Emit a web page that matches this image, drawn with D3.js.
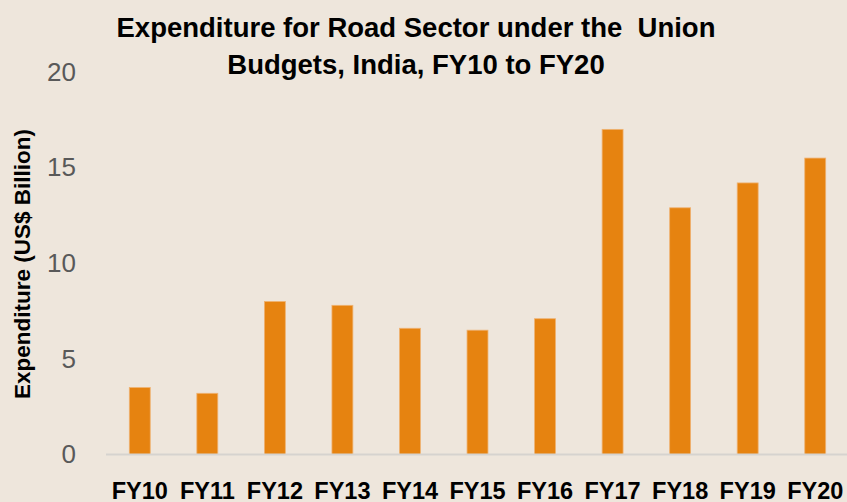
<!DOCTYPE html>
<html>
<head>
<meta charset="utf-8">
<script src="https://cdn.jsdelivr.net/npm/d3@7"></script>
<style>
  html, body { margin: 0; padding: 0; background: #EEE6DC; }
  svg { display: block; }
</style>
</head>
<body>
<svg id="road-chart" width="847" height="502"></svg>
<script>
// data
const years = ["FY10", "FY11", "FY12", "FY13", "FY14", "FY15", "FY16", "FY17", "FY18", "FY19", "FY20"];
const spend = [3.5, 3.2, 8.0, 7.8, 6.6, 6.5, 7.1, 17.0, 12.9, 14.2, 15.5];
const yTicks = [0, 5, 10, 15, 20];
const titleLines = ["Expenditure for Road Sector under the  Union", "Budgets, India, FY10 to FY20"];

const svg = d3.select("#road-chart");
const W = +svg.attr("width"), H = +svg.attr("height");

svg.append("rect").attr("width", W).attr("height", H).attr("fill", "#EEE6DC");

const x = d3.scaleBand()
    .domain(years)
    .range([106, 849])
    .paddingInner(0.69)
    .paddingOuter(0.345);

const y = d3.scaleLinear()
    .domain([0, 20])
    .range([454.5, 72]);

// bars
svg.selectAll(".bar")
    .data(spend)
    .enter()
    .append("rect")
    .attr("class", "bar")
    .attr("x", (d, i) => x(years[i]))
    .attr("y", d => y(d))
    .attr("width", x.bandwidth())
    .attr("height", d => y(0) - y(d))
    .attr("fill", "#E68310")
    .attr("stroke", "#EFB272")
    .attr("stroke-width", 0.8);

// baseline
svg.append("line")
    .attr("x1", 106).attr("x2", W)
    .attr("y1", y(0)).attr("y2", y(0))
    .attr("stroke", "#D6D3CF")
    .attr("stroke-width", 2);

// y axis (labels only)
const yAxis = svg.append("g")
    .attr("transform", "translate(76,0)")
    .call(d3.axisLeft(y).tickValues(yTicks).tickSize(0).tickPadding(0));
yAxis.select(".domain").remove();
yAxis.selectAll("text")
    .attr("fill", "#595959")
    .style("font-family", "'Liberation Sans', Arial, sans-serif")
    .style("font-size", "26px");

// x axis labels
const xAxis = svg.append("g")
    .attr("transform", `translate(0,${y(0)})`)
    .call(d3.axisBottom(x).tickSize(0).tickPadding(0));
xAxis.select(".domain").remove();
xAxis.selectAll("text")
    .attr("dy", null)
    .attr("y", 44)
    .attr("fill", "#000")
    .style("font-family", "'Liberation Sans', Arial, sans-serif")
    .style("font-weight", "bold")
    .style("font-size", "23.5px");

// y axis title
svg.append("text")
    .attr("transform", "translate(30,264) rotate(-90)")
    .attr("text-anchor", "middle")
    .style("font-family", "'Liberation Sans', Arial, sans-serif")
    .style("font-weight", "bold")
    .style("font-size", "22.5px")
    .attr("fill", "#000")
    .text("Expenditure (US$ Billion)");

// title
svg.append("g")
    .selectAll("text")
    .data(titleLines)
    .enter()
    .append("text")
    .attr("x", 416)
    .attr("y", (d, i) => 37 + i * 37)
    .attr("text-anchor", "middle")
    .attr("fill", "#000")
    .style("font-family", "'Liberation Sans', Arial, sans-serif")
    .style("font-weight", "bold")
    .style("font-size", "27.5px")
    .style("white-space", "pre")
    .text(d => d);
</script>
</body>
</html>
